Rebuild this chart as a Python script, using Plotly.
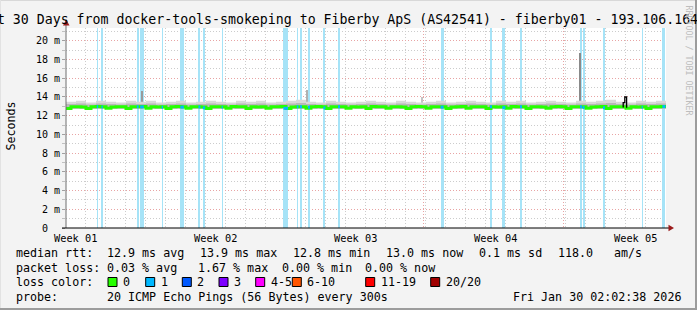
import numpy as np
import plotly.graph_objects as go

# ---------------- data ----------------
TITLE = "Last 30 Days from docker-tools-smokeping to Fiberby ApS (AS42541) - fiberby01 - 193.106.164.130"
week_labels = ["Week 01", "Week 02", "Week 03", "Week 04", "Week 05"]
week_label_day = [0.45, 7.45, 14.45, 21.45, 28.45]
week_grid_day = [3.88, 10.88, 17.88, 24.88]
day_grid_day = [0.95, 1.95, 2.95, 3.95, 4.95, 5.95, 6.95, 7.95, 8.95, 9.95,
                10.95, 11.95, 12.95, 13.95, 14.95, 15.95, 16.95, 17.95, 18.95, 19.95,
                20.95, 21.95, 22.95, 23.95, 24.95, 25.95, 26.95, 27.95, 28.95, 29.95]
y_major = [0, 2, 4, 6, 8, 10, 12, 14, 16, 18, 20]
y_major_text = ["0\u00a0\u00a0", "2 m", "4 m", "6 m", "8 m", "10 m", "12 m", "14 m", "16 m", "18 m", "20 m"]
y_minor = [1, 3, 5, 7, 9, 11, 13, 15, 17, 19, 21]

# median rtt (ms), 0.25-day steps
median_ms = [
    12.78, 12.95, 12.95, 12.92, 12.78, 12.95, 12.97, 12.95,
    12.80, 12.93, 12.95, 12.95, 12.78, 12.95, 12.95, 12.97,
    12.80, 12.95, 12.93, 12.95, 12.78, 12.95, 12.97, 12.95,
    12.80, 12.95, 12.95, 12.93, 12.78, 12.95, 12.95, 12.95,
    12.80, 12.97, 12.95, 12.95, 12.78, 12.95, 12.93, 12.95,
    12.80, 12.95, 12.95, 12.97, 12.78, 12.93, 12.95, 12.95,
    12.80, 12.95, 12.97, 12.95, 12.78, 12.95, 12.95, 12.95,
    12.80, 12.95, 12.93, 12.95, 12.78, 12.97, 12.95, 12.95,
    12.80, 12.95, 12.95, 12.93, 12.78, 12.95, 12.97, 12.95,
    12.80, 12.95, 12.95, 12.95, 12.78, 12.93, 12.95, 12.97,
    12.80, 12.95, 12.95, 12.95, 12.78, 12.95, 12.93, 12.95,
    12.80, 12.97, 12.95, 12.95, 12.78, 12.95, 12.95, 12.93,
    12.80, 12.95, 12.97, 12.95, 12.78, 12.95, 12.95, 12.95,
    12.80, 12.93, 12.95, 12.97, 12.78, 12.95, 12.95, 12.95,
    12.80, 12.95, 12.93, 12.95, 12.78, 12.95, 12.95, 12.97,
]
# smoke envelope (ms), 0.5-day steps
smoke_hi = [
    13.50, 13.60, 13.40, 13.60, 13.50, 13.40, 13.60, 13.50, 13.60, 13.40,
    13.50, 13.60, 13.40, 13.50, 13.60, 13.50, 13.40, 13.60, 13.50, 13.60,
    13.40, 13.50, 13.60, 13.70, 13.50, 13.40, 13.60, 13.50, 13.40, 13.50,
    13.60, 13.50, 13.40, 13.60, 13.50, 13.40, 13.50, 13.60, 13.40, 13.50,
    13.60, 13.50, 13.40, 13.60, 13.50, 13.60, 13.40, 13.50, 13.60, 13.50,
    13.40, 13.60, 13.50, 13.60, 13.70, 13.50, 13.40, 13.60, 13.50, 13.60,
]
smoke_mid = [
    13.25, 13.30, 13.20, 13.30, 13.25, 13.20, 13.30, 13.25, 13.30, 13.20,
    13.25, 13.30, 13.20, 13.25, 13.30, 13.25, 13.20, 13.30, 13.25, 13.30,
    13.20, 13.25, 13.30, 13.35, 13.25, 13.20, 13.30, 13.25, 13.20, 13.25,
    13.30, 13.25, 13.20, 13.30, 13.25, 13.20, 13.25, 13.30, 13.20, 13.25,
    13.30, 13.25, 13.20, 13.30, 13.25, 13.30, 13.20, 13.25, 13.30, 13.25,
    13.20, 13.30, 13.25, 13.30, 13.35, 13.25, 13.20, 13.30, 13.25, 13.30,
]
SMOKE_FLOOR = 12.75

# packet-loss events (day, duration in days)
loss_day = [1.54, 1.77, 3.54, 3.71, 4.78, 5.72, 6.62, 6.84, 7.78, 10.87,
            11.54, 11.70, 12.10, 12.87, 13.60, 18.73, 21.20, 21.82, 22.70,
            25.70, 25.83, 26.85, 28.78, 29.82]
loss_dur = [0.07, 0.07, 0.09, 0.18, 0.07, 0.17, 0.10, 0.12, 0.06, 0.23,
            0.08, 0.10, 0.10, 0.10, 0.10, 0.15, 0.10, 0.15, 0.10,
            0.10, 0.10, 0.10, 0.06, 0.15]

# single-ping outliers in the smoke
spike_day = [3.78, 12.05, 17.80, 25.70]
spike_ms = [14.6, 14.7, 14.0, 18.75]

# median excursion near the end
bump_day = [27.83, 27.86, 27.94, 28.03]
bump_ms = [12.95, 13.40, 14.00, 12.85]

legend_rows = [
    [("median rtt:", 16), ("12.9 ms avg", 107.3), ("13.9 ms max", 200), ("12.8 ms min", 292.7),
     ("13.0 ms now", 386), ("0.1 ms sd", 479.3), ("118.0", 558.3), ("am/s", 614)],
    [("packet loss:", 16), ("0.03 % avg", 107.3), ("1.67 % max", 197.5), ("0.00 % min", 281.5),
     ("0.00 % now", 365)],
    [("loss color:", 16)],
    [("probe:", 16), ("20 ICMP Echo Pings (56 Bytes) every 300s", 107.3),
     ("Fri Jan 30 02:02:38 2026", 513.3)],
]
loss_labels = ["0", "1", "2", "3", "4-5", "6-10", "11-19", "20/20"]
loss_colors = ["#26ff00", "#00b8ff", "#0059ff", "#7e00ff", "#ff00ff", "#ff5500", "#ff0000", "#a10000"]
loss_swatch_x = [108, 145.7, 182.3, 219, 255.7, 292.3, 365.7, 430.7]

# ---------------- layout geometry ----------------
W, H = 697, 310
L, R, T, B = 66, 31, 28, 82
PW, PH = W - L - R, H - T - B
X_MAX = 30
Y_MAX = 21.37
MONO = "DejaVu Sans Mono"


def px(x):
    return (x - L) / PW


def py(y):
    return (H - B - y) / PH


fig = go.Figure()

# loss background bars
fig.add_trace(go.Bar(x=[d + w / 2 for d, w in zip(loss_day, loss_dur)], y=[Y_MAX] * len(loss_day),
                     width=loss_dur, marker=dict(color="#a6e3f7", line=dict(width=0)),
                     hoverinfo="skip"))

# smoke
t_half = np.arange(0, X_MAX + 0.001, 0.5)
hi = smoke_hi + [smoke_hi[-1]]
mid = smoke_mid + [smoke_mid[-1]]
fig.add_trace(go.Scatter(x=t_half, y=[SMOKE_FLOOR] * len(t_half), mode="lines",
                         line=dict(width=0, shape="hv"), hoverinfo="skip"))
fig.add_trace(go.Scatter(x=t_half, y=hi, mode="lines", fill="tonexty", fillcolor="#d9d9d9",
                         line=dict(width=0, shape="hv"), hoverinfo="skip"))
fig.add_trace(go.Scatter(x=t_half, y=[SMOKE_FLOOR] * len(t_half), mode="lines",
                         line=dict(width=0, shape="hv"), hoverinfo="skip"))
fig.add_trace(go.Scatter(x=t_half, y=mid, mode="lines", fill="tonexty", fillcolor="#b8b8b8",
                         line=dict(width=0, shape="hv"), hoverinfo="skip"))

# spikes
fig.add_trace(go.Bar(x=spike_day, y=[v - SMOKE_FLOOR for v in spike_ms], base=SMOKE_FLOOR,
                     width=0.09, marker=dict(color=["#9a9a9a", "#b0b0b0", "#c4c4c4", "#8a8a8a"],
                                             line=dict(width=0)), hoverinfo="skip"))

# median
t_q = np.arange(0, X_MAX + 0.001, 0.25)
med = median_ms + [median_ms[-1]]
fig.add_trace(go.Scatter(x=t_q, y=med, mode="lines", line=dict(color="#26ff00", width=3, shape="hv"),
                         hoverinfo="skip"))

# median coloured by loss
bx, by = [], []
for d, w in zip(loss_day, loss_dur):
    v = float(np.interp(d + w / 2, t_q, med))
    bx += [d, d + w, None]
    by += [v, v, None]
fig.add_trace(go.Scatter(x=bx, y=by, mode="lines", line=dict(color="#00b8ff", width=3), hoverinfo="skip"))

fig.add_trace(go.Scatter(x=bump_day, y=bump_ms, mode="lines", line=dict(color="#000000", width=1.3, shape="hv"),
                         hoverinfo="skip"))

GRID_MINOR = "#cccccc"
GRID_MAJOR = "#e8a4a4"
DASH = "1px,2px"

fig.update_layout(
    width=W, height=H, autosize=False,
    margin=dict(l=L, r=R, t=T, b=B, pad=0),
    paper_bgcolor="#f3f3f3", plot_bgcolor="#ffffff",
    showlegend=False, barmode="overlay", bargap=0,
    xaxis=dict(range=[0, X_MAX], tickvals=week_grid_day, showticklabels=False, ticks="",
               showgrid=True, gridcolor=GRID_MAJOR, griddash=DASH, gridwidth=1,
               zeroline=False, showline=False, automargin=False, fixedrange=True,
               minor=dict(tickvals=day_grid_day, showgrid=True, gridcolor=GRID_MINOR,
                          griddash=DASH, gridwidth=1, ticks="")),
    yaxis=dict(range=[0, Y_MAX], tickvals=y_major, ticktext=y_major_text,
               tickfont=dict(family=MONO, size=10, color="#000000"),
               ticks="outside", ticklen=3, tickcolor="#a0a0a0", tickwidth=1,
               showgrid=True, gridcolor=GRID_MAJOR, griddash=DASH, gridwidth=1,
               zeroline=False, showline=False, automargin=False, fixedrange=True,
               minor=dict(tickvals=y_minor, showgrid=True, gridcolor=GRID_MINOR, griddash=DASH,
                          gridwidth=1, ticks="outside", ticklen=3, tickcolor="#c0c0c0")),
)

shapes = []
# frame shading
shapes.append(dict(type="rect", xref="paper", yref="paper", x0=px(0), x1=px(W), y0=py(0), y1=py(1),
                   fillcolor="#d8d8d8", line=dict(width=0), layer="below"))
shapes.append(dict(type="rect", xref="paper", yref="paper", x0=px(0), x1=px(1), y0=py(0), y1=py(H),
                   fillcolor="#e2e2e2", line=dict(width=0), layer="below"))
shapes.append(dict(type="rect", xref="paper", yref="paper", x0=px(W - 2), x1=px(W), y0=py(0), y1=py(H),
                   fillcolor="#9c9c9c", line=dict(width=0), layer="below"))
shapes.append(dict(type="rect", xref="paper", yref="paper", x0=px(0), x1=px(W), y0=py(H - 2), y1=py(H),
                   fillcolor="#9c9c9c", line=dict(width=0), layer="below"))
# axes
shapes.append(dict(type="line", xref="paper", yref="paper", x0=px(66), x1=px(66), y0=py(228), y1=py(24),
                   line=dict(color="#6e6e6e", width=1), layer="above"))
shapes.append(dict(type="line", xref="paper", yref="paper", x0=px(62), x1=px(670), y0=py(228), y1=py(228),
                   line=dict(color="#000000", width=1.2), layer="above"))
# arrows
shapes.append(dict(type="path", xref="paper", yref="paper",
                   path=f"M {px(63)} {py(25.5)} L {px(69.5)} {py(25.5)} L {px(66.2)} {py(19.5)} Z",
                   fillcolor="#9b1b1b", line=dict(width=0), layer="above"))
shapes.append(dict(type="path", xref="paper", yref="paper",
                   path=f"M {px(668.5)} {py(224.8)} L {px(668.5)} {py(231.2)} L {px(674)} {py(228)} Z",
                   fillcolor="#9b1b1b", line=dict(width=0), layer="above"))
# loss-colour swatches
for sx, c in zip(loss_swatch_x, loss_colors):
    shapes.append(dict(type="rect", xref="paper", yref="paper", x0=px(sx), x1=px(sx + 9),
                       y0=py(286.5), y1=py(277.5), fillcolor=c, line=dict(color="#000000", width=1)))
fig.update_layout(shapes=shapes)

anns = []


def ann(text, x, y, size, xanchor="left", color="#000000", angle=0):
    anns.append(dict(text=text, x=px(x), y=py(y), xref="paper", yref="paper", showarrow=False,
                     xanchor=xanchor, yanchor="middle", textangle=angle, borderpad=0,
                     font=dict(family=MONO, size=size, color=color)))


ann(TITLE, -28.3, 20, 13.24)
for lab, d in zip(week_labels, week_label_day):
    ann(lab, L + d / X_MAX * PW, 238, 10.3, xanchor="center")
row_y = [253.3, 268.0, 282.3, 297.0]
for row, yy in zip(legend_rows, row_y):
    for text, xx in row:
        ann(text, xx - 1, yy, 11.66)
for sx, lab in zip(loss_swatch_x, loss_labels):
    ann(lab, sx + 14, row_y[2], 11.66)
ann("Seconds", 10.5, 126, 11.66, xanchor="center", angle=-90)
ann("RRDTOOL / TOBI OETIKER", 688.5, 60, 8.3, xanchor="center", color="#bdbdbd", angle=90)
fig.update_layout(annotations=anns)

fig.write_html("out.html", include_plotlyjs=True, config={"displayModeBar": False, "staticPlot": True})
